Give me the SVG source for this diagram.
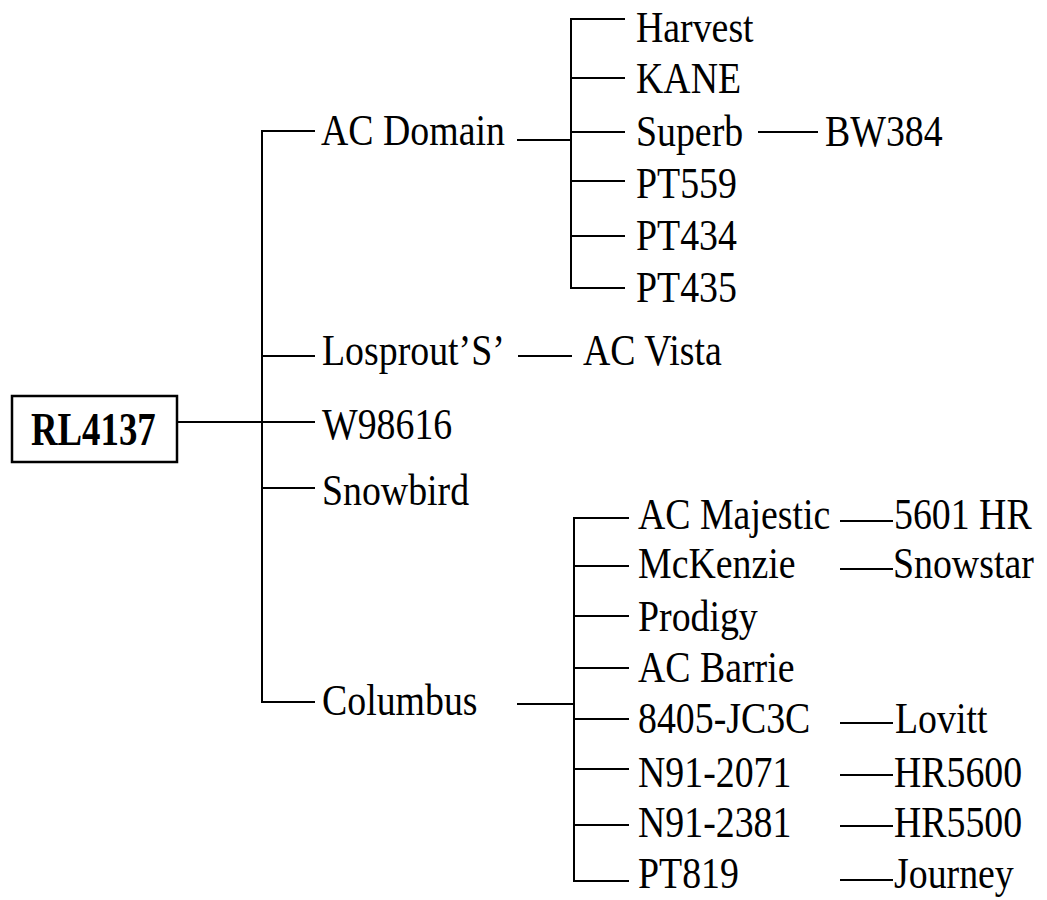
<svg xmlns="http://www.w3.org/2000/svg" width="1047" height="900" viewBox="0 0 1047 900">
<style>
text{font-family:"Liberation Serif","Times New Roman",serif;font-size:44px;fill:#000}
.b{font-weight:bold;font-size:46px}
line{stroke:#000;stroke-width:2;fill:none}
.box{stroke:#000;stroke-width:2.5;fill:#fff}
</style>
<rect width="1047" height="900" fill="#fff"/>
<g id="connectors">
<line x1="177" y1="422" x2="315" y2="422"/>
<line x1="262" y1="130" x2="262" y2="703"/>
<line x1="261" y1="131" x2="315" y2="131"/>
<line x1="261" y1="356" x2="315" y2="356"/>
<line x1="261" y1="488" x2="315" y2="488"/>
<line x1="261" y1="702" x2="315" y2="702"/>
<line x1="517" y1="140" x2="571" y2="140"/>
<line x1="571" y1="18" x2="571" y2="289"/>
<line x1="570" y1="19" x2="625" y2="19"/>
<line x1="570" y1="78" x2="625" y2="78"/>
<line x1="570" y1="132" x2="625" y2="132"/>
<line x1="570" y1="181" x2="625" y2="181"/>
<line x1="570" y1="236" x2="625" y2="236"/>
<line x1="570" y1="288" x2="625" y2="288"/>
<line x1="758" y1="132" x2="818" y2="132"/>
<line x1="518" y1="356" x2="572" y2="356"/>
<line x1="517" y1="704" x2="573" y2="704"/>
<line x1="574" y1="517" x2="574" y2="882"/>
<line x1="573" y1="518" x2="629" y2="518"/>
<line x1="573" y1="566" x2="629" y2="566"/>
<line x1="573" y1="616" x2="629" y2="616"/>
<line x1="573" y1="668" x2="629" y2="668"/>
<line x1="573" y1="719" x2="629" y2="719"/>
<line x1="573" y1="769" x2="629" y2="769"/>
<line x1="573" y1="825" x2="629" y2="825"/>
<line x1="573" y1="881" x2="629" y2="881"/>
<line x1="840" y1="521" x2="893" y2="521"/>
<line x1="840" y1="569" x2="893" y2="569"/>
<line x1="840" y1="723" x2="893" y2="723"/>
<line x1="840" y1="775" x2="893" y2="775"/>
<line x1="840" y1="826" x2="893" y2="826"/>
<line x1="840" y1="880" x2="893" y2="880"/>
</g>
<g id="n-RL4137"><rect class="box" x="12" y="396" width="165" height="66"/><text class="b" transform="translate(31,445) scale(0.8,1)">RL4137</text></g>
<g id="n-ACDomain"><text transform="translate(321,145) scale(0.86,1)">AC Domain</text></g>
<g id="n-Harvest"><text transform="translate(636,42) scale(0.86,1)">Harvest</text></g>
<g id="n-KANE"><text transform="translate(636,93) scale(0.86,1)">KANE</text></g>
<g id="n-Superb"><text transform="translate(636,146) scale(0.86,1)">Superb</text></g>
<g id="n-BW384"><text transform="translate(825,146) scale(0.86,1)">BW384</text></g>
<g id="n-PT559"><text transform="translate(636,198) scale(0.86,1)">PT559</text></g>
<g id="n-PT434"><text transform="translate(636,250) scale(0.86,1)">PT434</text></g>
<g id="n-PT435"><text transform="translate(636,302) scale(0.86,1)">PT435</text></g>
<g id="n-Losprout"><text transform="translate(322,365) scale(0.86,1)">Losprout’S’</text></g>
<g id="n-ACVista"><text transform="translate(583,365) scale(0.86,1)">AC Vista</text></g>
<g id="n-W98616"><text transform="translate(322,439) scale(0.86,1)">W98616</text></g>
<g id="n-Snowbird"><text transform="translate(322,505) scale(0.86,1)">Snowbird</text></g>
<g id="n-Columbus"><text transform="translate(322,715) scale(0.86,1)">Columbus</text></g>
<g id="n-ACMajestic"><text transform="translate(638,529) scale(0.86,1)">AC Majestic</text></g>
<g id="n-5601HR"><text transform="translate(894,529) scale(0.86,1)">5601 HR</text></g>
<g id="n-McKenzie"><text transform="translate(638,578) scale(0.86,1)">McKenzie</text></g>
<g id="n-Snowstar"><text transform="translate(893,578) scale(0.86,1)">Snowstar</text></g>
<g id="n-Prodigy"><text transform="translate(638,631) scale(0.86,1)">Prodigy</text></g>
<g id="n-ACBarrie"><text transform="translate(638,682) scale(0.86,1)">AC Barrie</text></g>
<g id="n-8405"><text transform="translate(638,733) scale(0.86,1)">8405-JC3C</text></g>
<g id="n-Lovitt"><text transform="translate(895,733) scale(0.86,1)">Lovitt</text></g>
<g id="n-N912071"><text transform="translate(638,787) scale(0.86,1)">N91-2071</text></g>
<g id="n-HR5600"><text transform="translate(894,787) scale(0.86,1)">HR5600</text></g>
<g id="n-N912381"><text transform="translate(638,837) scale(0.86,1)">N91-2381</text></g>
<g id="n-HR5500"><text transform="translate(894,837) scale(0.86,1)">HR5500</text></g>
<g id="n-PT819"><text transform="translate(638,888) scale(0.86,1)">PT819</text></g>
<g id="n-Journey"><text transform="translate(894,888) scale(0.86,1)">Journey</text></g>
</svg>
